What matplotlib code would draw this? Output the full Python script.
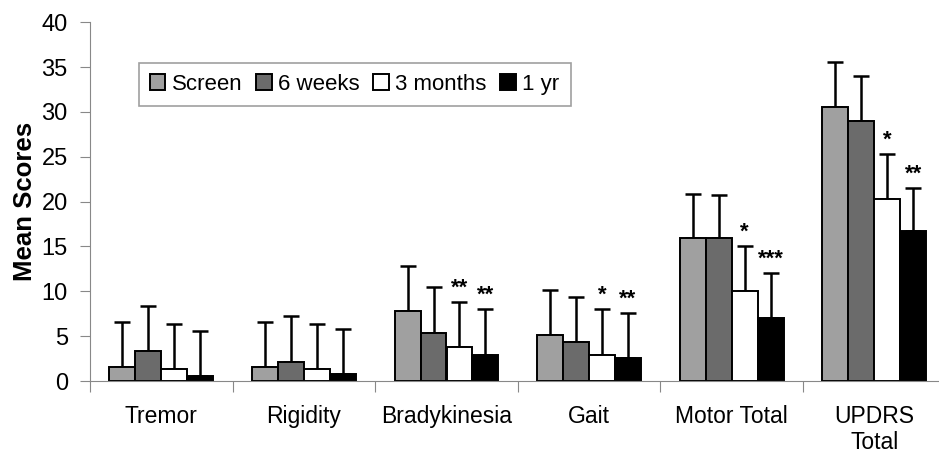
import matplotlib.pyplot as plt
import numpy as np

plt.rcParams['font.family'] = ['Liberation Sans', 'DejaVu Sans']

categories = ['Tremor', 'Rigidity', 'Bradykinesia', 'Gait', 'Motor Total', 'UPDRS\nTotal']
series = ['Screen', '6 weeks', '3 months', '1 yr']
colors = ['#a0a0a0', '#6b6b6b', '#ffffff', '#000000']

screen = [1.55, 1.55, 7.8, 5.15, 15.9, 30.6]
weeks6 = [3.4, 2.1, 5.4, 4.3, 15.9, 29.0]
months3 = [1.35, 1.35, 3.75, 2.9, 10.0, 20.3]
year1 = [0.55, 0.75, 2.95, 2.55, 7.0, 16.7]

screen_sd = [5.0, 5.0, 5.05, 5.05, 5.0, 5.0]
weeks6_sd = [5.0, 5.1, 5.05, 5.1, 4.8, 5.0]
months3_sd = [5.05, 5.05, 5.05, 5.1, 5.05, 5.0]
year1_sd = [5.05, 5.05, 5.05, 5.0, 5.0, 4.8]

months3_sig = ['', '', '**', '*', '*', '*']
year1_sig = ['', '', '**', '**', '***', '**']

means = [screen, weeks6, months3, year1]
sds = [screen_sd, weeks6_sd, months3_sd, year1_sd]
sigs = [None, None, months3_sig, year1_sig]

fig = plt.figure(figsize=(9.39, 4.55), dpi=100)
ax = fig.add_axes([90 / 939, 74 / 455, 855.6 / 939, 358.7 / 455])

x = np.arange(len(categories)) + 0.5
width = 0.182
for i, (m, s, c, name) in enumerate(zip(means, sds, colors, series)):
    pos = x + (i - 1.5) * width
    ax.bar(pos, m, width, color=c, edgecolor='black', linewidth=1.4, label=name, zorder=2)
    ax.errorbar(pos, m, yerr=[np.zeros(len(m)), s], fmt='none', ecolor='black',
                elinewidth=1.8, capsize=6, capthick=1.8, zorder=1)
    if sigs[i] is not None:
        for p, mv, sv, t in zip(pos, m, s, sigs[i]):
            if t:
                ax.text(p, mv + sv + 0.4, t, ha='center', va='bottom',
                        fontsize=16, fontweight='bold')

ax.set_ylim(0, 40)
ax.set_yticks(range(0, 41, 5))
ax.set_xlim(0, 6)
ax.set_xticks(np.arange(0, 7))
ax.set_xticklabels([])
ax.set_xticks(x, minor=True)
ax.set_xticklabels(categories, minor=True, fontsize=16.5)
ax.tick_params(axis='x', which='minor', length=0, pad=17)
ax.tick_params(axis='x', which='major', length=8, color='#888888')
ax.tick_params(axis='y', labelsize=17, length=7, pad=9, color='#888888')
ax.set_ylabel('Mean Scores', fontsize=18.5, fontweight='bold', labelpad=3)

for side in ['top', 'right']:
    ax.spines[side].set_visible(False)
for side in ['left', 'bottom']:
    ax.spines[side].set_color('#888888')

leg = ax.legend(loc='upper left', bbox_to_anchor=(0.057, 0.887), ncol=4, fontsize=16,
                frameon=True, fancybox=False, edgecolor='#888888', handlelength=0.7,
                handleheight=0.7, handletextpad=0.3, columnspacing=0.6,
                borderpad=0.5, borderaxespad=0)
leg.get_frame().set_linewidth(1.2)

fig.savefig('out.png', dpi=100)
